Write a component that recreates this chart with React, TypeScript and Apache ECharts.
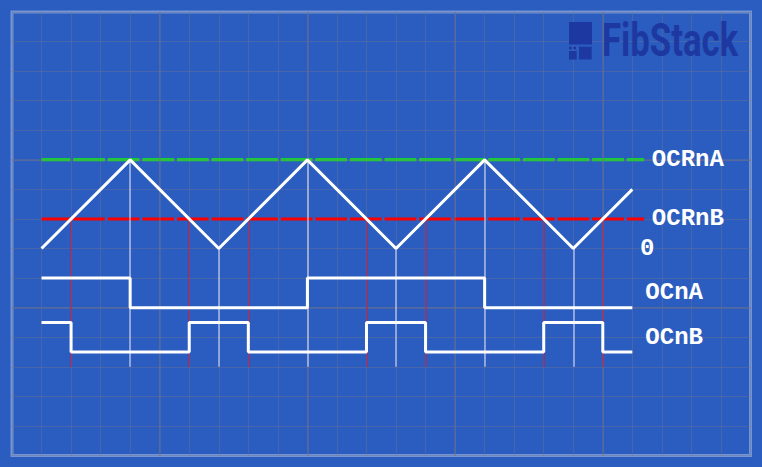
import React, { useEffect, useRef } from "react";
import * as echarts from "echarts";

// Counter (triangle wave) vertices: [time, count]
const counterTime = [0, 3, 6, 9, 12, 15, 18, 20];
const counterValue = [0, 3, 0, 3, 0, 3, 0, 2];

// Compare levels
const ocrnaLevel = 3;
const ocrnbLevel = 1;
const compareEnd = 20.4;

// Output waveforms (step 'end'): [time, level]
const ocnaTime = [0, 3, 9, 15, 20];
const ocnaLevel = [-1, -2, -1, -2, -2];
const ocnbTime = [0, 1, 5, 7, 11, 13, 17, 19, 20];
const ocnbLevel = [-2.5, -3.5, -2.5, -3.5, -2.5, -3.5, -2.5, -3.5, -3.5];

// Guide lines
const peakTimes = [3, 9, 15];
const troughTimes = [6, 12, 18];
const matchBTimes = [1, 5, 7, 11, 13, 17, 19];
const guideBottom = -4;

// Major grid lines
const majorX = [4, 9, 14, 19];
const majorY = [3, -2];

// Labels
const labelTexts = ["OCRnA", "OCRnB", "0", "OCnA", "OCnB"];
const labelX = [20.66, 20.66, 20.26, 20.44, 20.44];
const labelY = [3, 1, 0, -1.5, -3];

const BG = "#2a5dbf";
const GRIDC = "rgba(110,112,140,0.42)";
const LOGO = "#1d38a0";

export default function App() {
  const ref = useRef<HTMLDivElement>(null);
  useEffect(() => {
    if (!ref.current) return;
    const chart = echarts.init(ref.current, undefined, { renderer: "svg" });
    const zip = (a: number[], b: number[]) => a.map((v, i) => [v, b[i]]);
    const logo = [
      { type: "rect", z: 100, shape: { x: 569, y: 22, width: 23, height: 22.5 }, style: { fill: LOGO } },
      { type: "rect", z: 100, shape: { x: 569, y: 46.7, width: 2.7, height: 2.6 }, style: { fill: LOGO } },
      { type: "rect", z: 100, shape: { x: 573.3, y: 46.7, width: 2.7, height: 2.6 }, style: { fill: LOGO } },
      { type: "rect", z: 100, shape: { x: 569, y: 51, width: 7.7, height: 8.5 }, style: { fill: LOGO } },
      { type: "rect", z: 100, shape: { x: 579, y: 46.7, width: 12.7, height: 12.8 }, style: { fill: LOGO } },
      {
        type: "text",
        z: 100,
        x: 602,
        y: 63,
        scaleX: 0.755,
        style: {
          text: "FibStack",
          fill: LOGO,
          fontFamily: "Roboto",
          fontWeight: "bold",
          fontSize: 46,
          verticalAlign: "bottom",
        },
      },
    ];
    chart.setOption({
      animation: false,
      backgroundColor: BG,
      grid: {
        left: 12,
        top: 12,
        width: 738.5,
        height: 443.5,
        show: true,
        borderColor: "rgba(190,205,235,0.5)",
        borderWidth: 3,
        backgroundColor: "transparent",
      },
      xAxis: {
        type: "value",
        min: -1,
        max: 24,
        interval: 1,
        axisLine: { show: false },
        axisTick: { show: false },
        axisLabel: { show: false },
        splitLine: { show: true, lineStyle: { color: GRIDC, width: 1 } },
      },
      yAxis: {
        type: "value",
        min: -7,
        max: 8,
        interval: 1,
        axisLine: { show: false },
        axisTick: { show: false },
        axisLabel: { show: false },
        splitLine: { show: true, lineStyle: { color: GRIDC, width: 1 } },
      },
      graphic: logo,
      series: [
        {
          type: "line",
          silent: true,
          data: [],
          markLine: {
            silent: true,
            symbol: "none",
            label: { show: false },
            lineStyle: { color: GRIDC, width: 2, type: "solid" },
            data: [
              ...majorX.map((v) => ({ xAxis: v })),
              ...majorY.map((v) => ({ yAxis: v })),
            ],
          },
        },
        {
          type: "line",
          silent: true,
          data: [],
          z: 3,
          markLine: {
            silent: true,
            symbol: "none",
            label: { show: false },
            lineStyle: { color: "rgba(225,230,250,0.7)", width: 1.5, type: "solid" },
            data: [
              ...peakTimes.map((t) => [{ coord: [t, ocrnaLevel] }, { coord: [t, guideBottom] }]),
              ...troughTimes.map((t) => [{ coord: [t, 0] }, { coord: [t, guideBottom] }]),
            ],
          },
        },
        {
          type: "line",
          silent: true,
          data: [],
          z: 3,
          markLine: {
            silent: true,
            symbol: "none",
            label: { show: false },
            lineStyle: { color: "rgba(200,30,60,0.7)", width: 1.5, type: "solid" },
            data: matchBTimes.map((t) => [{ coord: [t, ocrnbLevel] }, { coord: [t, guideBottom] }]),
          },
        },
        {
          type: "line",
          z: 4,
          symbol: "none",
          data: [[0, ocrnaLevel], [compareEnd, ocrnaLevel]],
          lineStyle: { color: "#0af50a", width: 3, type: [31.8, 2.8], dashOffset: 2.8, opacity: 1 },
        },
        {
          type: "line",
          z: 4,
          symbol: "none",
          data: [[0, ocrnbLevel], [compareEnd, ocrnbLevel]],
          lineStyle: { color: "#ff0000", width: 3, type: [31.8, 2.8], dashOffset: 2.8, opacity: 1 },
        },
        {
          type: "line",
          z: 5,
          symbol: "none",
          data: zip(counterTime, counterValue),
          lineStyle: { color: "#ffffff", width: 3 },
        },
        {
          type: "line",
          z: 5,
          symbol: "none",
          step: "end",
          data: zip(ocnaTime, ocnaLevel),
          lineStyle: { color: "#ffffff", width: 3 },
        },
        {
          type: "line",
          z: 5,
          symbol: "none",
          step: "end",
          data: zip(ocnbTime, ocnbLevel),
          lineStyle: { color: "#ffffff", width: 3 },
        },
      ],
    });
    const labels = labelTexts.map((t, i) => {
      const p = chart.convertToPixel({ gridIndex: 0 }, [labelX[i], labelY[i]]) as number[];
      return {
        type: "text",
        z: 100,
        x: p[0],
        y: p[1],
        style: {
          text: t,
          fill: "#ffffff",
          fontFamily: "Liberation Mono",
          fontWeight: "bold",
          fontSize: 24,
          align: "left",
          verticalAlign: "middle",
        },
      };
    });
    chart.setOption({ graphic: [...logo, ...labels] });
    return () => chart.dispose();
  }, []);
  return <div ref={ref} style={{ width: 762, height: 467, position: "fixed", left: 0, top: 0 }} />;
}
